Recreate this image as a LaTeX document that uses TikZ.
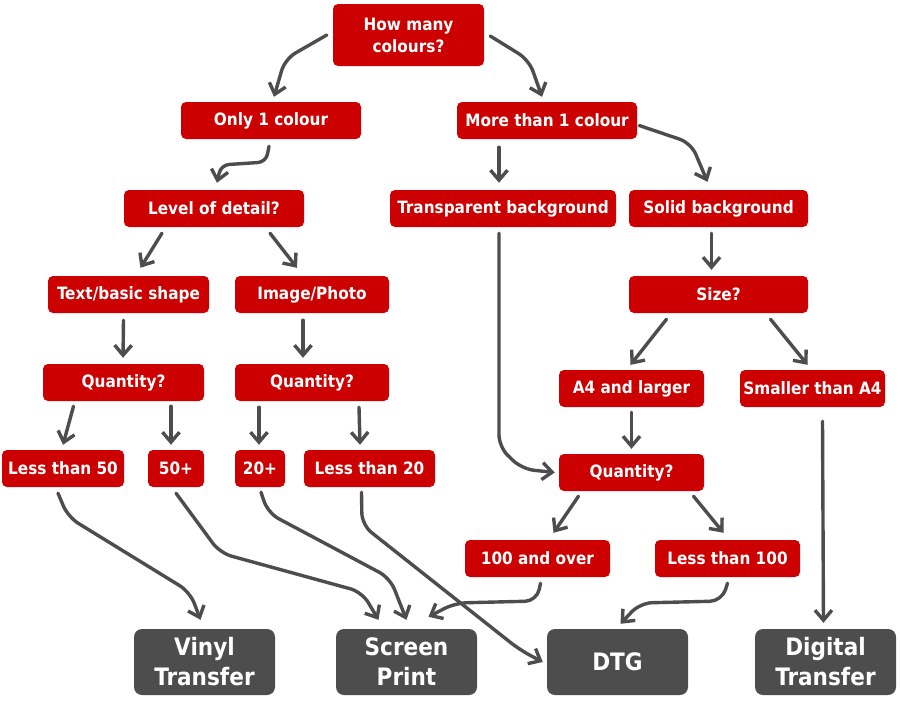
\documentclass[tikz,border=0pt]{standalone}
\usepackage{fontspec}
\setmainfont{DejaVu Sans Condensed}
\usetikzlibrary{arrows.meta,calc}
\definecolor{boxred}{HTML}{CC0000}
\definecolor{boxgray}{HTML}{4D4D4D}
\definecolor{linegray}{HTML}{4D4D4D}
\begin{document}
\begin{tikzpicture}[x=1pt,y=-1pt,
  rbox/.style={fill=boxred, rounded corners=5pt, text=white, font=\bfseries\fontsize{17}{22}\selectfont, inner sep=0pt, align=center, minimum height=37pt},
  gbox/.style={fill=boxgray, rounded corners=8pt, text=white, font=\bfseries\fontsize{24}{30}\selectfont, inner sep=0pt, align=center, minimum width=141pt, minimum height=66pt},
  conn/.style={draw=linegray, line width=3.4pt, line cap=round, line join=round, rounded corners=12pt, -{Straight Barb[length=10pt,width=17pt]}}]
\useasboundingbox (0,0) rectangle (900,720);
% decision nodes
\node[rbox, minimum width=151pt, minimum height=62pt] (how) at (408.5,35) {How many\\colours?};
\node[rbox, minimum width=180pt] (one) at (271,120.5) {Only 1 colour};
\node[rbox, minimum width=180pt] (more) at (547,120.5) {More than 1 colour};
\node[rbox, minimum width=180pt] (lod) at (214,208.5) {Level of detail?};
\node[rbox, minimum width=226pt] (trans) at (503,208.5) {Transparent background};
\node[rbox, minimum width=179pt] (solid) at (718.5,208.5) {Solid background};
\node[rbox, minimum width=161pt] (text) at (128.5,294.5) {Text/basic shape};
\node[rbox, minimum width=154pt] (img) at (312,294.5) {Image/Photo};
\node[rbox, minimum width=179pt] (size) at (718.5,294.5) {Size?};
\node[rbox, minimum width=161pt] (ql) at (123.5,382.5) {Quantity?};
\node[rbox, minimum width=154pt] (qm) at (312,382.5) {Quantity?};
\node[rbox, minimum width=145pt] (a4) at (631.5,388.5) {A4 and larger};
\node[rbox, minimum width=145pt] (sm) at (812.5,388.5) {Smaller than A4};
\node[rbox, minimum width=122pt] (l50) at (63,468.5) {Less than 50};
\node[rbox, minimum width=56pt] (p50) at (176,468.5) {50+};
\node[rbox, minimum width=50pt] (p20) at (260,468.5) {20+};
\node[rbox, minimum width=131pt] (l20) at (369.5,468.5) {Less than 20};
\node[rbox, minimum width=145pt] (qr) at (631.5,472.5) {Quantity?};
\node[rbox, minimum width=145pt] (o100) at (537.5,558.5) {100 and over};
\node[rbox, minimum width=145pt] (l100) at (727.5,558.5) {Less than 100};
% outcome nodes
\node[gbox] (vinyl) at (204.5,662) {Vinyl\\Transfer};
\node[gbox] (screen) at (406.5,662) {Screen\\Print};
\node[gbox] (dtg) at (617.5,662) {DTG};
\node[gbox] (dig) at (825.5,662) {Digital\\Transfer};
% connectors
\draw[conn] ($(how.west)+(-6,0)$) -- (285,59) -- ($(one.north)+(3,-5)$);
\draw[conn] ($(how.east)+(6,1)$) -- (529,60) -- ($(more.north)+(-5,-5)$);
\draw[conn, rounded corners=8pt] ($(one.south)+(-2,7)$) -- (266,162) -- (221,165) -- ($(lod.north)+(3,-7)$);
\draw[conn] ($(more.south)+(-48,8)$) -- ($(trans.north)+(-4,-7)$);
\draw[conn] ($(more.east)+(2,5)$) -- (691,143) -- ($(solid.north)+(-11,-8)$);
\draw[conn] ($(lod.south)+(-52,6)$) -- ($(text.north)+(12,-8)$);
\draw[conn] ($(lod.south)+(56,6)$) -- ($(img.north)+(-15,-8)$);
\draw[conn] ($(text.south)+(-5,7)$) -- ($(ql.north)+(-0.5,-6)$);
\draw[conn] ($(img.south)+(-9,7)$) -- ($(qm.north)+(-9,-6)$);
\draw[conn] ($(ql.south)+(-50,5)$) -- ($(l50.north)+(0,-5)$);
\draw[conn] ($(ql.south)+(47.5,5)$) -- ($(p50.north)+(-5,-5)$);
\draw[conn] ($(qm.south)+(-53,6)$) -- ($(p20.north)+(-1,-5)$);
\draw[conn] ($(qm.south)+(47,6)$) -- ($(l20.north)+(-9.5,-5)$);
\draw[conn] ($(l50.south)+(-5,6)$) -- (68,517) -- (190,592) -- ($(vinyl.north)+(-4,-9)$);
\draw[conn] ($(p50.south)+(0,6)$) -- (220,553) -- (362,592) -- ($(screen.north)+(-28,-9)$);
\draw[conn] ($(p20.south)+(1,5)$) -- (268,513) -- (390,578) -- ($(screen.north)+(0,-9)$);
\draw[conn] ($(l20.south)+(-8,5)$) -- (362,525) -- (520,650) -- ($(dtg.west)+(-4,0)$);
\draw[conn] ($(o100.south)+(3,6)$) -- (537,601) -- (455,603) -- ($(screen.north)+(22,-12)$);
\draw[conn] ($(trans.south)+(-4,6)$) -- (499,447) -- (522,469) -- ($(qr.west)+(-4,0)$);
\draw[conn] ($(solid.south)+(-7,6)$) -- ($(size.north)+(-7,-6)$);
\draw[conn] ($(size.south)+(-52,6)$) -- ($(a4.north)+(-1,-5)$);
\draw[conn] ($(size.south)+(52,6)$) -- ($(sm.north)+(-5,-5)$);
\draw[conn] ($(a4.south)+(0,5)$) -- ($(qr.north)+(0,-5)$);
\draw[conn] ($(qr.south)+(-53,5)$) -- ($(o100.north)+(16,-7)$);
\draw[conn] ($(qr.south)+(62,5)$) -- ($(l100.north)+(-4,-7)$);
\draw[conn] ($(l100.south)+(0,6)$) -- (722,601) -- (640,603) -- ($(dtg.north)+(3,-5)$);
\draw[conn] ($(sm.south)+(10,14)$) -- ($(dig.north)+(-2,-6)$);
\end{tikzpicture}
\end{document}
